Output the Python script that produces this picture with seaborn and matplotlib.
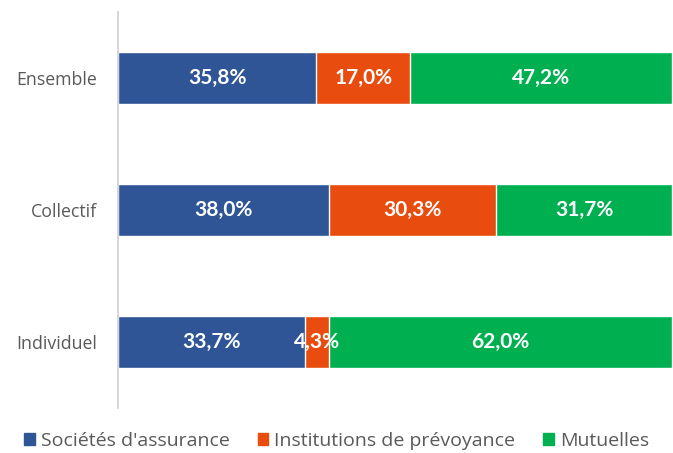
import numpy as np
import pandas as pd
import matplotlib
matplotlib.use("Agg")
import matplotlib.pyplot as plt
import seaborn as sns

# data
categories = ["Ensemble", "Collectif", "Individuel"]
series_names = ["Sociétés d'assurance", "Institutions de prévoyance", "Mutuelles"]
societes = [35.8, 38.0, 33.7]
institutions = [17.0, 30.3, 4.3]
mutuelles = [47.2, 31.7, 62.0]
colors = ["#2F5597", "#E84C0E", "#00B050"]

sns.set_theme(style="white")
plt.rcParams["font.family"] = ["Open Sans", "DejaVu Sans"]

fig = plt.figure(figsize=(6.73, 4.53), dpi=100)
ax = fig.add_axes([0.1753, 0.0993, 0.8232, 0.8742])

vals = [societes, institutions, mutuelles]
cum = np.cumsum(np.array(vals), axis=0)

# stacked: draw cumulative totals from the largest down
for i in reversed(range(3)):
    df = pd.DataFrame({"cat": categories, "val": cum[i]})
    sns.barplot(data=df, y="cat", x="val", color=colors[i], orient="h",
                width=0.4, saturation=1, ax=ax)

# value labels
for i in range(3):
    for j, cat in enumerate(categories):
        left = cum[i][j] - vals[i][j]
        x = left + vals[i][j] / 2
        ax.text(x, j, f"{vals[i][j]:.1f}%".replace(".", ","), ha="center", va="center",
                color="white", fontsize=15, fontweight="bold", family=["Lato", "DejaVu Sans"])

ax.set_xlim(0, 100)
ax.set_ylim(2.5, -0.5)
ax.set_xlabel("")
ax.set_ylabel("")
ax.set_xticks([])
ax.tick_params(axis="y", length=0, labelsize=12.8, labelcolor="#595959", pad=15)
for s in ["top", "right", "bottom"]:
    ax.spines[s].set_visible(False)
ax.spines["left"].set_color("#D0D0D0")
ax.spines["left"].set_linewidth(1.2)

handles = [plt.Rectangle((0, 0), 1, 1, color=c) for c in colors]
fig.legend(handles, series_names, loc="center", bbox_to_anchor=(0.5, 0.027),
           ncol=3, frameon=False, fontsize=14, handlelength=0.55, handleheight=0.55,
           handletextpad=0.3, columnspacing=1.45, labelcolor="#595959")

fig.savefig("out.png", dpi=100)
